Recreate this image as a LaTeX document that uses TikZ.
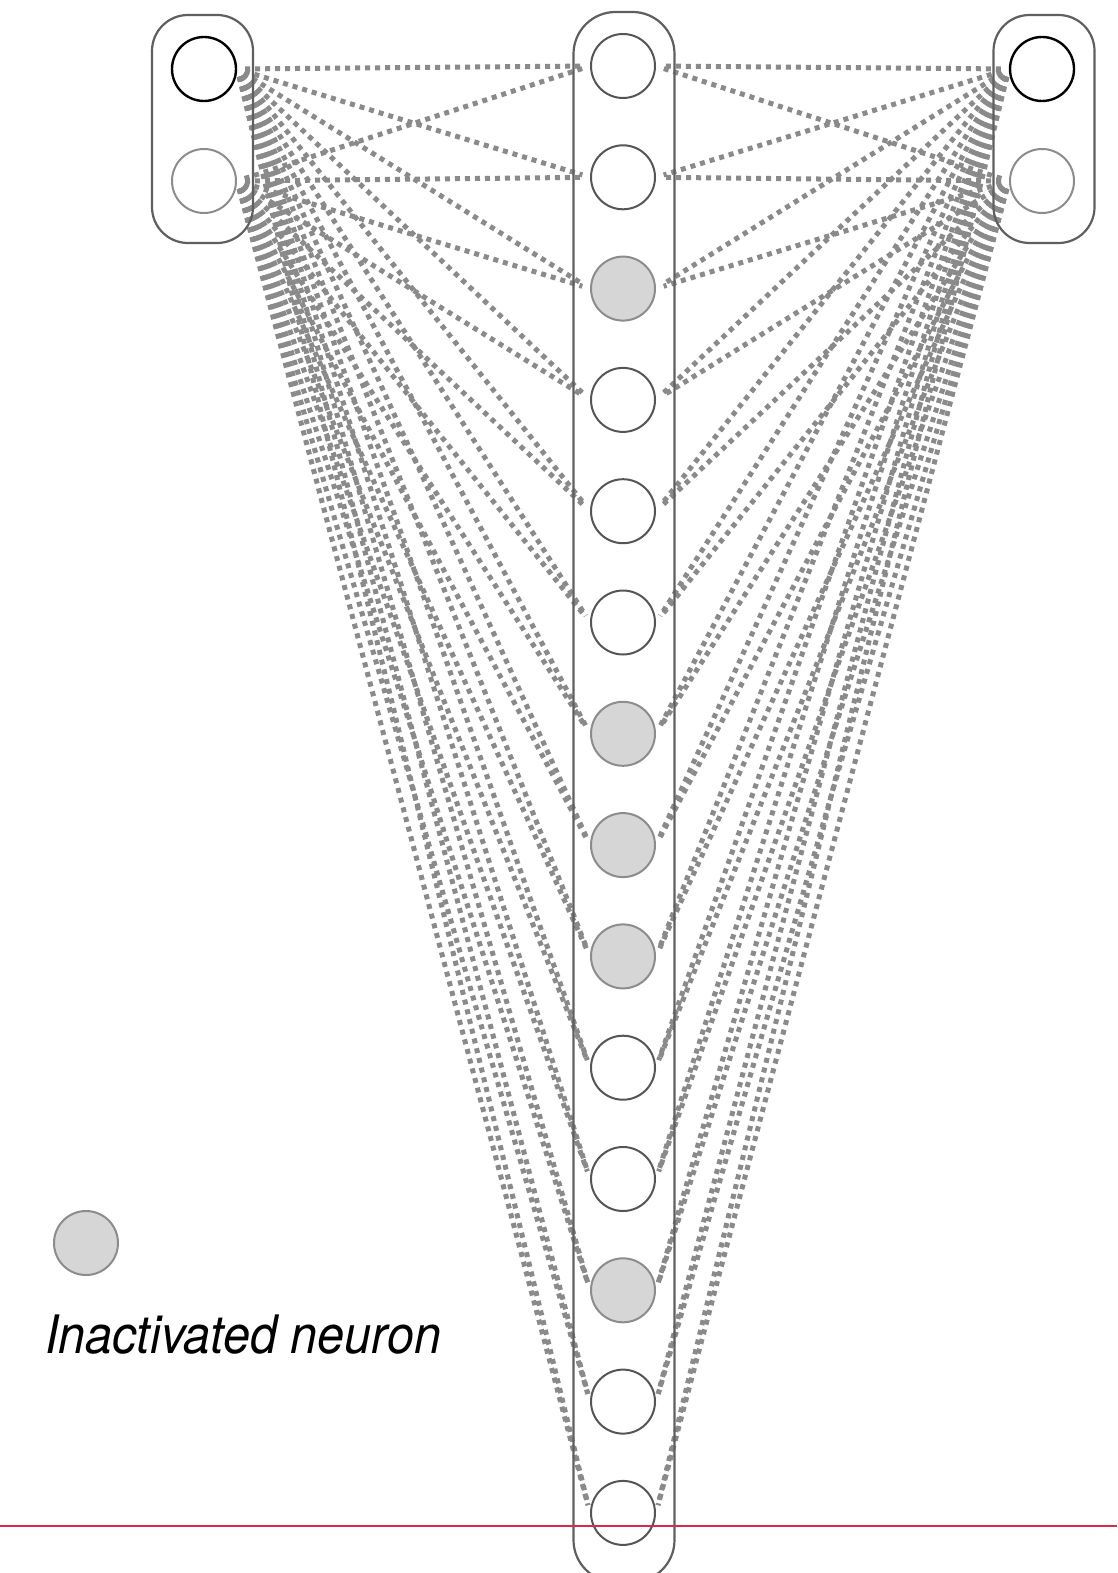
\documentclass[tikz,border=0pt]{standalone}
\usepackage{fontspec}
\setmainfont{TeX Gyre Heros}
\usetikzlibrary{calc}
\definecolor{linkgray}{RGB}{138,138,138}
\definecolor{boxgray}{RGB}{95,95,95}
\definecolor{rimgray}{RGB}{85,85,85}
\definecolor{softrim}{RGB}{140,140,140}
\definecolor{idlefill}{RGB}{214,214,214}
\definecolor{guidered}{RGB}{220,40,75}
\pgfdeclarelayer{links}
\pgfsetlayers{links,main}
\tikzset{
  groupbox/.style={draw=boxgray, line width=2.2pt, rounded corners=36pt, inner sep=0pt},
  neuron/.style={circle, draw=rimgray, line width=2pt, minimum size=64pt, inner sep=0pt, fill=white},
  outa/.style={neuron, draw=black, line width=2.4pt},
  outb/.style={neuron, draw=softrim},
  idle/.style={neuron, fill=idlefill, draw=softrim},
  link/.style={draw=linkgray, line width=5pt, dash pattern=on 5pt off 5pt,
               shorten <=8pt, shorten >=8pt},
  guideline/.style={draw=guidered, line width=1.3pt},
}
\begin{document}
\begin{tikzpicture}[x=1pt,y=-1pt]
\useasboundingbox (0,0) rectangle (1117,1573);
\clip (0,0) rectangle (1117,1573);

% layer containers
\node[groupbox, minimum width=101pt, minimum height=228pt] (inbox) at (202.5,129) {};
\node[groupbox, minimum width=101pt, minimum height=228pt] (outbox) at (1044,129) {};
\node[groupbox, minimum width=101pt, minimum height=1570pt, rounded corners=42pt] (hidbox) at (624,797) {};

% input and output neurons
\node[outa] (L1) at (204,69) {};
\node[outb] (L2) at (204,181) {};
\node[outa] (R1) at (1042,69) {};
\node[outb] (R2) at (1042,181) {};

% hidden neurons; 3, 7, 8, 9 and 12 are inactive
\foreach \i in {1,...,14} {
  \pgfmathsetmacro{\yy}{66+111.3*(\i-1)}
  \ifnum\i=3 \def\kind{idle}\else
  \ifnum\i=7 \def\kind{idle}\else
  \ifnum\i=8 \def\kind{idle}\else
  \ifnum\i=9 \def\kind{idle}\else
  \ifnum\i=12 \def\kind{idle}\else
  \def\kind{neuron}\fi\fi\fi\fi\fi
  \node[\kind] (M\i) at (623,\yy) {};
}

% full connections
\begin{pgfonlayer}{links}
\foreach \i in {1,...,14} {
  \draw[link] (L1.east) -- (M\i.west);
  \draw[link] (L2.east) -- (M\i.west);
  \draw[link] (R1.west) -- (M\i.east);
  \draw[link] (R2.west) -- (M\i.east);
}
\end{pgfonlayer}

% legend
\node[idle] (key) at (86,1243) {};
\node[anchor=base west, inner sep=0pt] (keytext) at (45,1353)
  {\itshape\fontsize{53}{60}\selectfont\scalebox{0.915}[1]{Inactivated neuron}};

% red guide line across the page
\coordinate (guideL) at (0,1526);
\coordinate (guideR) at (1117,1526);
\draw[guideline] (guideL) -- (guideR);
\end{tikzpicture}
\end{document}
